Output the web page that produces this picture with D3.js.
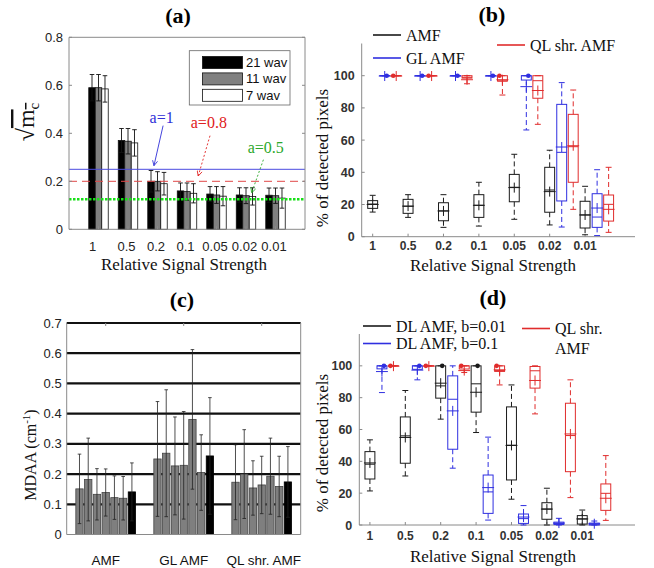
<!DOCTYPE html>
<html>
<head>
<meta charset="utf-8">
<script src="https://cdn.jsdelivr.net/npm/d3@7"></script>
<style>
  body { margin: 0; background: #fff; }
  svg { display: block; }
</style>
</head>
<body>
<svg id="fig" width="654" height="568"></svg>
<script>
// ---------- data ----------
const strengths = ["1", "0.5", "0.2", "0.1", "0.05", "0.02", "0.01"];

// (a) sqrt(m_c) for three wavelength counts
const wavLabels = ["21 wav", "11 wav", "7 wav"];
const mc21 = [0.590, 0.370, 0.200, 0.160, 0.147, 0.143, 0.142];
const mc11 = [0.590, 0.367, 0.200, 0.157, 0.143, 0.140, 0.140];
const mc7  = [0.585, 0.360, 0.190, 0.150, 0.138, 0.137, 0.130];
const mcSd21 = [0.055, 0.050, 0.045, 0.033, 0.031, 0.030, 0.030];
const mcSd11 = [0.055, 0.053, 0.040, 0.036, 0.035, 0.033, 0.032];
const mcSd7  = [0.055, 0.055, 0.047, 0.040, 0.040, 0.036, 0.042];
const aLevels = [0.25, 0.2, 0.125];
const aLabels = ["a=1", "a=0.8", "a=0.5"];
// label anchor [x, y] and arrow [x0, y0, x1, y1] in data units
const aLabelPos = [[3.14, 0.442], [4.74, 0.422], [6.67, 0.318]];
const aArrows = [[3.19, 0.432, 2.88, 0.265], [4.78, 0.39, 4.38, 0.222], [6.59, 0.29, 6.19, 0.152]];

// (c) MDAA per method (six gray runs + one black)
const methods = ["AMF", "GL AMF", "QL shr. AMF"];
const mdaaAMF = [0.151, 0.182, 0.133, 0.139, 0.122, 0.120, 0.141];
const mdaaGL  = [0.250, 0.269, 0.227, 0.229, 0.381, 0.205, 0.260];
const mdaaQL  = [0.173, 0.200, 0.154, 0.164, 0.193, 0.159, 0.174];
const sdAMF = [0.115, 0.137, 0.085, 0.078, 0.072, 0.072, 0.096];
const sdGL  = [0.190, 0.210, 0.162, 0.178, 0.231, 0.125, 0.193];
const sdQL  = [0.124, 0.147, 0.090, 0.095, 0.126, 0.100, 0.117];
const mdaaTicks = [0, 0.1, 0.2, 0.3, 0.4, 0.5, 0.6, 0.7];

// box statistics per strength: [low whisker, q1, median, q3, high whisker, mean, dot]
const pctTicks = [0, 20, 40, 60, 80, 100];
const boxAMF = [
  [15.3, 17.6, 20.3, 22.4, 25.7, 20.0, null],
  [12.0, 14.5, 18.9, 23.2, 26.1, 19.0, null],
  [5.8, 9.9, 16.0, 21.1, 26.1, 16.0, null],
  [6.6, 12.0, 19.5, 26.1, 33.8, 19.5, null],
  [10.8, 21.7, 30.7, 38.7, 51.2, 30.5, null],
  [7.3, 15.2, 29.0, 43.1, 53.7, 28.0, null],
  [1.2, 5.4, 13.5, 22.0, 31.3, 13.5, null]
];
const boxGL = [
  [100, 100, 100, 100, 100, 99.8, 100],
  [100, 100, 100, 100, 100, 99.8, 100],
  [100, 100, 100, 100, 100, 99.8, 100],
  [100, 100, 100, 100, 100, 99.8, 100],
  [66.3, 97.3, 100, 100, 100, 93.2, 100],
  [6.0, 22.2, 52.4, 82.2, 95.7, 55.7, null],
  [0.7, 5.8, 12.2, 26.7, 41.6, 17.8, null]
];
const boxQL = [
  [100, 100, 100, 100, 100, 99.8, 100],
  [100, 100, 100, 100, 100, 99.8, 100],
  [95.0, 98.5, 99.0, 100, 100, 97.5, null],
  [88.0, 96.7, 96.7, 100, 100, 97.5, 100],
  [69.8, 86.0, 96.9, 100, 100, 90.8, null],
  [17.0, 33.8, 55.9, 76.0, 91.1, 56.5, null],
  [2.7, 9.7, 20.1, 25.9, 43.1, 17.0, null]
];
const boxDL001 = [
  [21.4, 28.9, 38.2, 46.1, 53.5, 39.0, null],
  [30.8, 38.8, 56.0, 67.9, 84.5, 55.0, null],
  [66.5, 79.7, 87.4, 100, 100, 89.1, 100],
  [58.1, 70.9, 88.7, 100, 100, 83.4, 100],
  [16.2, 28.3, 50.1, 74.2, 88.0, 50.0, null],
  [0, 3.6, 10.0, 14.0, 23.1, 10.0, null],
  [0, 0.6, 3.8, 5.9, 9.4, 3.8, null]
];
const boxDL01 = [
  [83.2, 98.1, 100, 100, 100, 96.4, 100],
  [91.2, 97.8, 100, 100, 100, 97.3, 100],
  [35.7, 47.6, 79.0, 93.7, 100, 71.7, null],
  [3.1, 7.3, 20.8, 31.4, 55.2, 23.5, null],
  [0, 1.0, 4.0, 6.9, 12.2, 5.0, null],
  [0, 0.3, 1.0, 1.8, 4.2, 1.2, null],
  [0, 0, 0.5, 1.2, 2.5, 0.8, null]
];
const boxQLd = [
  [100, 100, 100, 100, 100, 99.8, 100],
  [100, 100, 100, 100, 100, 99.8, 100],
  [95.8, 98.0, 100, 100, 100, 97.0, 100],
  [88.0, 96.5, 97.0, 100, 100, 97.5, 100],
  [69.8, 86.0, 96.9, 99.6, 100, 90.8, null],
  [17.2, 33.5, 56.2, 76.5, 91.2, 57.2, null],
  [2.9, 9.2, 19.9, 25.8, 43.6, 16.8, null]
];

// ---------- styles ----------
const SERIF = "'Liberation Serif','Times New Roman',serif";
const SANS = "'Liberation Sans',Arial,sans-serif";
const AXIS = "#8a8a8a";
const BLACK = "#1a1a1a", BLUE = "#2f2fe0", RED = "#e02c2c";

const svg = d3.select("#fig");
svg.append("rect").attr("width", 654).attr("height", 568).attr("fill", "#fff");

function title(txt, x, y) {
  svg.append("text").attr("x", x).attr("y", y).attr("text-anchor", "middle")
    .attr("font-family", SERIF).attr("font-weight", "bold").attr("font-size", 22)
    .attr("fill", "#000").text(txt);
}
function hline(g, x0, x1, y, stroke, w, dash) {
  const l = g.append("line").attr("x1", x0).attr("x2", x1).attr("y1", y).attr("y2", y)
    .attr("stroke", stroke).attr("stroke-width", w || 1);
  if (dash) l.attr("stroke-dasharray", dash);
  return l;
}
function vline(g, x, y0, y1, stroke, w, dash) {
  const l = g.append("line").attr("x1", x).attr("x2", x).attr("y1", y0).attr("y2", y1)
    .attr("stroke", stroke).attr("stroke-width", w || 1);
  if (dash) l.attr("stroke-dasharray", dash);
  return l;
}

// ================= (a) =================
{
  const x = d3.scaleLinear().domain([0, 8]).range([69, 305]);
  const y = d3.scaleLinear().domain([0, 0.8]).range([229.3, 37.3]);
  const g = svg.append("g");
  const series = [
    { v: mc21, sd: mcSd21, fill: "#000" },
    { v: mc11, sd: mcSd11, fill: "#808080" },
    { v: mc7, sd: mcSd7, fill: "#fff" }
  ];
  const bw = x(0.22) - x(0);

  series.forEach((s, k) => {
    const off = (k - 1) * 0.22;
    g.selectAll(null).data(s.v).enter().append("rect")
      .attr("x", (d, i) => x(i + 1 + off) - bw / 2)
      .attr("y", d => y(d))
      .attr("width", bw)
      .attr("height", d => y(0) - y(d))
      .attr("fill", s.fill).attr("stroke", "#111").attr("stroke-width", 0.8);
    s.v.forEach((d, i) => {
      const cx = x(i + 1 + off);
      vline(g, cx, y(d - s.sd[i]), y(d + s.sd[i]), "#111", 0.9);
      hline(g, cx - 2.3, cx + 2.3, y(d + s.sd[i]), "#111", 0.9);
      hline(g, cx - 2.3, cx + 2.3, y(d - s.sd[i]), "#111", 0.9);
    });
  });

  // threshold lines
  hline(g, x(0), x(8), y(aLevels[0]), "#4a4ae0", 1);
  hline(g, x(0), x(8), y(aLevels[1]), "#e04848", 1, "8,5");
  hline(g, x(0), x(8), y(aLevels[2]), "#16e016", 2.6, "2.5,1.5");

  // frame
  hline(g, x(0), x(8), y(0), AXIS, 1);
  hline(g, x(0), x(8), y(0.8), AXIS, 1);
  vline(g, x(0), y(0), y(0.8), AXIS, 1);
  vline(g, x(8), y(0), y(0.8), AXIS, 1);

  const yt = [0, 0.2, 0.4, 0.6, 0.8];
  yt.forEach(t => {
    hline(g, x(0), x(0) + 3, y(t), AXIS, 1);
    hline(g, x(8) - 3, x(8), y(t), AXIS, 1);
    g.append("text").attr("x", x(0) - 6).attr("y", y(t) + 4.5).attr("text-anchor", "end")
      .attr("font-family", SANS).attr("font-size", 13).attr("fill", "#222")
      .text(t === 0 ? "0" : d3.format(".1f")(t));
  });
  strengths.forEach((s, i) => {
    vline(g, x(i + 1), y(0), y(0) - 3, AXIS, 1);
    g.append("text").attr("x", x(i + 1) - (i === 0 ? 6 : 1.5)).attr("y", 251).attr("text-anchor", "middle")
      .attr("font-family", SANS).attr("font-size", 13).attr("fill", "#222").text(s);
  });
  g.append("text").attr("x", 184).attr("y", 270).attr("text-anchor", "middle")
    .attr("font-family", SERIF).attr("font-size", 17).attr("fill", "#111")
    .text("Relative Signal Strength");

  // y label: square root of m_c
  const yl = g.append("text").attr("transform", "translate(34,122) rotate(-90)")
    .attr("text-anchor", "middle").attr("font-family", SERIF).attr("font-size", 24).attr("fill", "#111");
  yl.append("tspan").text("√");
  yl.append("tspan").attr("text-decoration", "overline").text("m");
  yl.append("tspan").attr("font-size", 15).attr("dy", 5).attr("text-decoration", "overline").text("c");

  // legend
  const lg = g.append("g");
  lg.append("rect").attr("x", 189.3).attr("y", 50.7).attr("width", 100.7).attr("height", 54.3)
    .attr("fill", "#fff").attr("stroke", "#666").attr("stroke-width", 0.8);
  series.forEach((s, k) => {
    const yy = 56.5 + k * 16.4;
    lg.append("rect").attr("x", 202.5).attr("y", yy).attr("width", 40).attr("height", 12)
      .attr("fill", s.fill).attr("stroke", "#111").attr("stroke-width", 0.8);
    lg.append("text").attr("x", 246).attr("y", yy + 10.5).attr("font-family", SANS)
      .attr("font-size", 13).attr("fill", "#111").text(wavLabels[k]);
  });

  // threshold annotations
  const annColors = ["#3030d8", "#e02020", "#2aa82a"];
  const annDash = [null, "2,2", "2,2"];
  const defs = svg.append("defs");
  annColors.forEach((c, k) => {
    defs.append("marker").attr("id", "arrow" + k).attr("viewBox", "0 0 10 10")
      .attr("refX", 9).attr("refY", 5).attr("markerWidth", 7).attr("markerHeight", 7)
      .attr("orient", "auto-start-reverse")
      .append("path").attr("d", "M1,1 L9,5 L1,9").attr("fill", "none").attr("stroke", c).attr("stroke-width", 1.3);
    g.append("text").attr("x", x(aLabelPos[k][0])).attr("y", y(aLabelPos[k][1]))
      .attr("text-anchor", "middle").attr("font-family", SERIF).attr("font-size", 16)
      .attr("fill", c).text(aLabels[k]);
    const a = aArrows[k];
    const l = g.append("line").attr("x1", x(a[0])).attr("y1", y(a[1])).attr("x2", x(a[2])).attr("y2", y(a[3]))
      .attr("stroke", c).attr("stroke-width", 0.9).attr("marker-end", `url(#arrow${k})`);
    if (annDash[k]) l.attr("stroke-dasharray", annDash[k]);
  });
}
title("(a)", 178, 23);

// ================= (b) and (d): box plots =================
function boxPanel(cfg) {
  const x = d3.scaleLinear().domain(cfg.xDomain).range(cfg.xRange);
  const y = d3.scaleLinear().domain([0, 120]).range(cfg.yRange);
  const g = svg.append("g");
  const x0 = cfg.xRange[0], x1 = cfg.xRange[1];

  // axes
  vline(g, x0, y(0), y(120), AXIS, 1);
  hline(g, x0, x1, y(0), AXIS, 1);
  pctTicks.forEach(t => {
    hline(g, x0, x0 + 3, y(t), AXIS, 1);
    g.append("text").attr("x", x0 - 7).attr("y", y(t) + 4.5).attr("text-anchor", "end")
      .attr("font-family", SANS).attr("font-weight", "bold").attr("font-size", 12.5)
      .attr("fill", "#333").text(t);
  });
  strengths.forEach((s, i) => {
    vline(g, x(i + 1), y(0), y(0) - 3, AXIS, 1);
    g.append("text").attr("x", x(i + 1)).attr("y", cfg.tickY).attr("text-anchor", "middle")
      .attr("font-family", SANS).attr("font-weight", "bold").attr("font-size", 12)
      .attr("fill", "#333").text(s);
  });
  g.append("text").attr("x", cfg.titleX).attr("y", cfg.axisTitleY).attr("text-anchor", "middle")
    .attr("font-family", SERIF).attr("font-size", 17).attr("fill", "#111")
    .text("Relative Signal Strength");
  g.append("text").attr("transform", `translate(${cfg.yLabelX},${cfg.yLabelY}) rotate(-90)`)
    .attr("text-anchor", "middle").attr("font-family", SERIF).attr("font-size", 17)
    .attr("fill", "#111").text("% of detected pixels");

  const bw = x(1.28) - x(1);
  cfg.series.forEach(s => {
    s.data.forEach((d, i) => {
      const [lo, q1, med, q3, hi, mean, dot] = d;
      const cx = x(i + 1 + s.offset);
      const c = s.color;
      // whiskers
      if (hi > q3) vline(g, cx, y(q3), y(hi), c, 1, "5,3");
      if (lo < q1) vline(g, cx, y(q1), y(lo), c, 1, "5,3");
      hline(g, cx - bw * 0.3, cx + bw * 0.3, y(hi), c, 1);
      hline(g, cx - bw * 0.3, cx + bw * 0.3, y(lo), c, 1);
      // box
      g.append("rect").attr("x", cx - bw / 2).attr("y", y(q3)).attr("width", bw)
        .attr("height", Math.max(0.01, y(q1) - y(q3)))
        .attr("fill", "none").attr("stroke", c).attr("stroke-width", 1);
      // median and mean
      hline(g, cx - bw / 2, cx + bw / 2, y(med), c, 1);
      hline(g, cx - bw / 2 - 1, cx + bw / 2 + 1, y(mean), c, 1);
      vline(g, cx, y(mean) - 5, y(mean) + 5, c, 1);
      if (dot !== null) {
        g.append("circle").attr("cx", cx + s.dotDx).attr("cy", y(dot)).attr("r", 2.3).attr("fill", c);
      }
    });
  });

  // legend
  cfg.legend.forEach(e => {
    hline(g, e.x, e.x + 28, e.y, e.color, 1.6);
    e.lines.forEach((t, j) => {
      g.append("text").attr("x", e.x + 33).attr("y", e.y + 5.5 + j * 20)
        .attr("font-family", SERIF).attr("font-size", 16).attr("fill", "#111").text(t);
    });
  });
}

boxPanel({
  xDomain: [0.69, 8.41], xRange: [361.7, 635], yRange: [236.7, 43.5],
  tickY: 250, axisTitleY: 271, titleX: 493, yLabelX: 328, yLabelY: 158,
  series: [
    { data: boxAMF, offset: 0, color: BLACK, dotDx: 1.5 },
    { data: boxGL, offset: 0.34, color: BLUE, dotDx: 2 },
    { data: boxQL, offset: 0.665, color: RED, dotDx: -3 }
  ],
  legend: [
    { x: 373, y: 35, color: BLACK, lines: ["AMF"] },
    { x: 373, y: 58, color: BLUE, lines: ["GL AMF"] },
    { x: 497, y: 45, color: RED, lines: ["QL shr. AMF"] }
  ]
});
title("(b)", 492, 22);

boxPanel({
  xDomain: [0.70, 8.49], xRange: [359.3, 635], yRange: [525, 334],
  tickY: 540, axisTitleY: 562, titleX: 493, yLabelX: 328, yLabelY: 443,
  series: [
    { data: boxDL001, offset: 0, color: BLACK, dotDx: 1.5 },
    { data: boxDL01, offset: 0.34, color: BLUE, dotDx: 2 },
    { data: boxQLd, offset: 0.665, color: RED, dotDx: -3 }
  ],
  legend: [
    { x: 363, y: 326, color: BLACK, lines: ["DL AMF, b=0.01"] },
    { x: 363, y: 343.5, color: BLUE, lines: ["DL AMF, b=0.1"] },
    { x: 522, y: 328.5, color: RED, lines: ["QL shr.", "AMF"] }
  ]
});
title("(d)", 493, 305);

// ================= (c) =================
{
  const x = d3.scaleLinear().domain([0.5, 3.5]).range([66.7, 300.7]);
  const y = d3.scaleLinear().domain([0, 0.7]).range([534.5, 323]);
  const g = svg.append("g");
  const groups = [
    { v: mdaaAMF, sd: sdAMF },
    { v: mdaaGL, sd: sdGL },
    { v: mdaaQL, sd: sdQL }
  ];

  // heavy horizontal grid
  mdaaTicks.filter(t => t > 0).forEach(t => hline(g, x(0.5), x(3.5), y(t), "#111", 2.2));

  const step = 0.112, bw = x(0.094) - x(0);
  groups.forEach((grp, gi) => {
    grp.v.forEach((d, j) => {
      const cx = x(gi + 1 + (j - 3) * step);
      const last = j === grp.v.length - 1;
      g.append("rect").attr("x", cx - bw / 2).attr("y", y(d)).attr("width", bw)
        .attr("height", y(0) - y(d))
        .attr("fill", last ? "#000" : "#7f7f7f").attr("stroke", last ? "#000" : "#444")
        .attr("stroke-width", 0.8);
    });
  });
  groups.forEach((grp, gi) => {
    grp.v.forEach((d, j) => {
      const cx = x(gi + 1 + (j - 3) * step);
      const s = grp.sd[j];
      vline(g, cx, y(d - s), y(d + s), "#222", 0.8);
      hline(g, cx - 1.8, cx + 1.8, y(d + s), "#222", 0.8);
      hline(g, cx - 1.8, cx + 1.8, y(d - s), "#222", 0.8);
    });
  });

  // frame
  vline(g, x(0.5), y(0), y(0.7), AXIS, 1);
  vline(g, x(3.5), y(0), y(0.7), AXIS, 1);
  hline(g, x(0.5), x(3.5), y(0), AXIS, 1);
  mdaaTicks.forEach(t => {
    g.append("text").attr("x", 61.7).attr("y", y(t) + 4.5).attr("text-anchor", "end")
      .attr("font-family", SANS).attr("font-size", 13).attr("fill", "#222")
      .text(t === 0 ? "0" : d3.format(".1f")(t));
  });
  methods.forEach((m, i) => {
    vline(g, x(i + 1), y(0.7), y(0.7) + 3, AXIS, 1);
    g.append("text").attr("x", x(i + 1) + (i === 2 ? 2 : 0)).attr("y", 565).attr("text-anchor", "middle")
      .attr("font-family", SANS).attr("font-size", 13.5).attr("fill", "#111").text(m);
  });
  const yl = g.append("text").attr("transform", "translate(36,455) rotate(-90)")
    .attr("text-anchor", "middle").attr("font-family", SERIF).attr("font-size", 16).attr("fill", "#111");
  yl.append("tspan").text("MDAA (cm");
  yl.append("tspan").attr("font-size", 11).attr("dy", -6).text("-1");
  yl.append("tspan").attr("dy", 6).text(")");
}
title("(c)", 182, 307);
</script>
</body>
</html>
